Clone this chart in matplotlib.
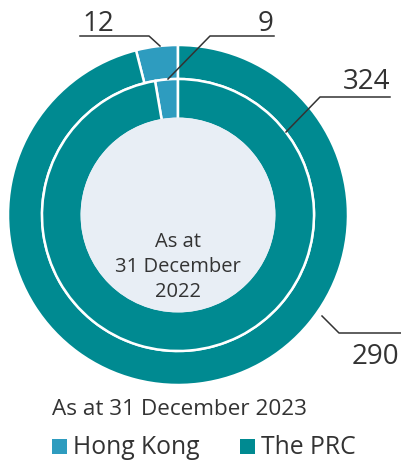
import matplotlib
matplotlib.use('Agg')
import matplotlib.pyplot as plt
from matplotlib.patches import Circle, Rectangle

categories = ['Hong Kong', 'The PRC']
values_2023 = [12, 290]
values_2022 = [9, 324]
center_label = ['As at', '31 December', '2022']
caption = 'As at 31 December 2023'

colors = ['#2e9cbf', '#008a91']
text_color = '#333333'
plt.rcParams['font.family'] = ['Open Sans', 'DejaVu Sans']

W, H = 402, 463
fig = plt.figure(figsize=(W / 100, H / 100), dpi=100)
ax = fig.add_axes([0, 0, 1, 1])


def Y(y):
    return H - y


cx, cy = 178, Y(215)
ax.pie(values_2023, colors=colors, radius=170, center=(cx, cy), startangle=90,
       counterclock=True, wedgeprops=dict(width=34, edgecolor='white', linewidth=1.8))
ax.pie(values_2022, colors=colors, radius=136, center=(cx, cy), startangle=90,
       counterclock=True, wedgeprops=dict(width=40, edgecolor='white', linewidth=1.8))
ax.add_patch(Circle((cx, cy), 97.5, facecolor='#e8eef5', edgecolor='none', zorder=5))
for i, line in enumerate(center_label):
    ax.text(cx, Y(247 + 25 * i), line, ha='center', va='baseline', fontsize=14.5,
            color=text_color, zorder=6)

ax.set_xlim(0, W)
ax.set_ylim(0, H)
ax.set_aspect('equal')
ax.axis('off')

lc = '#333333'
lw = 1.1
# 12 (outer HK)
ax.plot([80, 149, 160], [Y(36), Y(36), Y(46)], color=lc, lw=lw, zorder=7)
ax.text(114, Y(31), str(values_2023[0]), ha='right', va='baseline', fontsize=20, color=text_color)
# 9 (inner HK)
ax.plot([274, 210, 168], [Y(36), Y(36), Y(79)], color=lc, lw=lw, zorder=7)
ax.text(274, Y(31), str(values_2022[0]), ha='right', va='baseline', fontsize=20, color=text_color)
# 324 (inner PRC)
ax.plot([390, 320, 286], [Y(97), Y(97), Y(132)], color=lc, lw=lw, zorder=7)
ax.text(390, Y(89), str(values_2022[1]), ha='right', va='baseline', fontsize=20, color=text_color)
# 290 (outer PRC)
ax.plot([322, 339, 401], [Y(316), Y(333), Y(333)], color=lc, lw=lw, zorder=7)
ax.text(399, Y(364), str(values_2023[1]), ha='right', va='baseline', fontsize=20, color=text_color)

ax.text(52, Y(415), caption, ha='left', va='baseline', fontsize=16.2, color=text_color)

leg_x = [52, 240]
for i, name in enumerate(categories):
    ax.add_patch(Rectangle((leg_x[i], Y(454)), 15, 15, facecolor=colors[i], edgecolor='none'))
    ax.text(leg_x[i] + 21, Y(454), name, ha='left', va='baseline', fontsize=17.8, color=text_color)

fig.savefig('out.png', dpi=100)
